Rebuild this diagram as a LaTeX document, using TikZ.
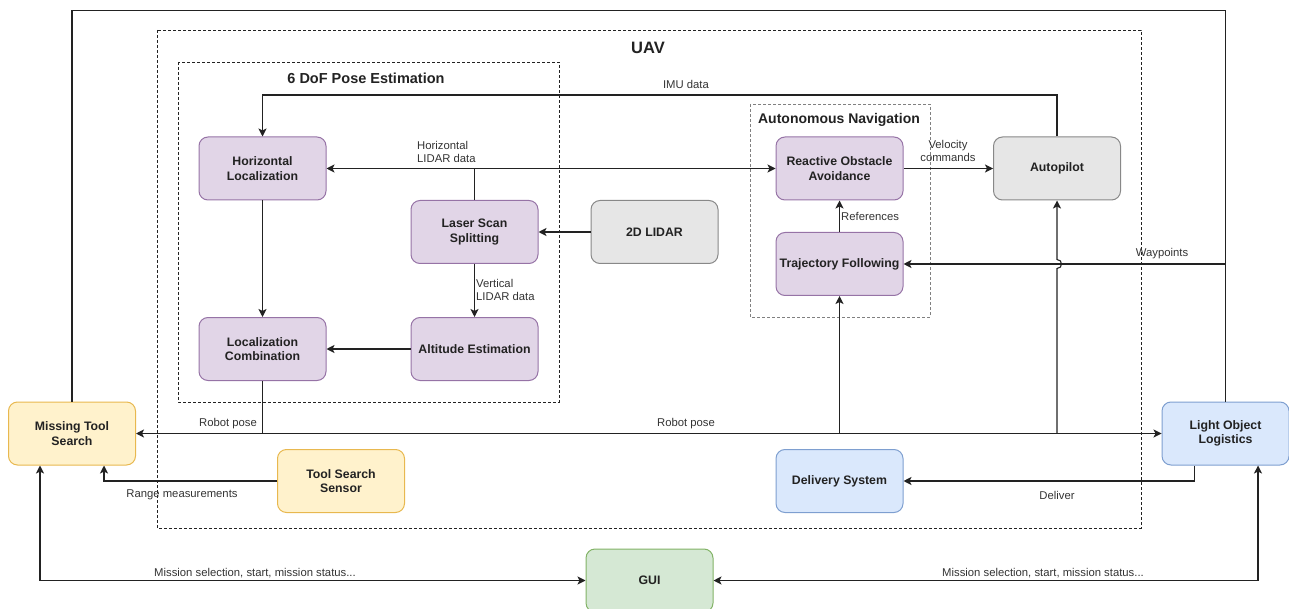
\documentclass[tikz,border=0pt]{standalone}
\usepackage{fontspec}
\setmainfont{Liberation Sans}
\usetikzlibrary{arrows.meta}
\definecolor{purf}{HTML}{E1D5E7}\definecolor{purd}{HTML}{9673A6}
\definecolor{grf}{HTML}{E6E6E6}\definecolor{grd}{HTML}{888888}
\definecolor{yef}{HTML}{FFF2CC}\definecolor{yed}{HTML}{E8B84F}
\definecolor{blf}{HTML}{DAE8FC}\definecolor{bld}{HTML}{7E9FD0}
\definecolor{gnf}{HTML}{D5E8D4}\definecolor{gnd}{HTML}{82B366}
\definecolor{ln}{HTML}{222222}
\definecolor{tx}{HTML}{333333}
\tikzset{
  box/.style={rounded corners=9pt, minimum width=127pt, minimum height=63pt, align=center, line width=1pt, inner sep=2pt,
    font=\fontsize{12.3}{14.5}\selectfont\bfseries, text=ln},
  pur/.style={box, fill=purf, draw=purd},
  gry/.style={box, fill=grf, draw=grd},
  yel/.style={box, fill=yef, draw=yed},
  blu/.style={box, fill=blf, draw=bld},
  grn/.style={box, fill=gnf, draw=gnd},
  lbl/.style={font=\fontsize{11.3}{13}\selectfont, text=tx, inner sep=0pt, align=left},
  ttl/.style={font=\fontsize{14.5}{16}\selectfont\bfseries, text=ln, inner sep=0pt},
  grp/.style={draw=ln, dash pattern=on 3pt off 2pt, line width=0.8pt},
  grp2/.style={draw=gray, dash pattern=on 3pt off 2pt, line width=0.7pt},
  ed/.style={draw=ln, line width=1.1pt},
  arr/.style={ed, -{Stealth[length=8pt,width=8pt,inset=2pt]}},
  arr2/.style={ed, {Stealth[length=8pt,width=8pt,inset=2pt]}-{Stealth[length=8pt,width=8pt,inset=2pt]}},
}
\begin{document}
\begin{tikzpicture}[x=1pt,y=-1pt]
\useasboundingbox (0,0) rectangle (1289,609);
% groups
\draw[grp] (157,30) rectangle (1141,528);
\draw[grp] (178,62) rectangle (559,402);
\draw[grp2] (750,104) rectangle (930,317);
\node[ttl, font=\fontsize{16.5}{18}\selectfont\bfseries] (tuav) at (648,48) {UAV};
\node[ttl] (tdof) at (366,78) {6 DoF Pose Estimation};
\node[ttl, font=\fontsize{14}{16}\selectfont\bfseries] (tan) at (839,120) {Autonomous Navigation};
% nodes
\node[pur] (hl) at (262.5,168.5) {Horizontal\\Localization};
\node[pur] (ls) at (474.5,232) {Laser Scan\\Splitting};
\node[gry] (lidar) at (654.5,232) {2D LIDAR};
\node[pur] (lc) at (262.5,349) {Localization\\Combination};
\node[pur] (ae) at (474.5,349) {Altitude Estimation};
\node[pur] (roa) at (839.5,168.5) {Reactive Obstacle\\Avoidance};
\node[pur] (tf) at (839.5,264) {Trajectory Following};
\node[gry] (ap) at (1057,168.5) {Autopilot};
\node[yel] (mts) at (72,433.5) {Missing Tool\\Search};
\node[yel] (tss) at (341,481) {Tool Search\\Sensor};
\node[blu] (ds) at (839.5,481) {Delivery System};
\node[blu] (lol) at (1225.5,433.5) {Light Object\\Logistics};
\node[grn] (gui) at (649.5,580.5) {GUI};
% helper coordinates
\coordinate (imu) at (660,95);
\coordinate (topl) at (640,10.5);
% edges
\draw[arr] (ap.north) -- (ap.north |- imu) -| (hl.north);
\draw[arr] (ls.north) |- (hl.east);
\draw[arr] (ls.north) |- (roa.west);
\draw[arr] (lidar.west) -- (ls.east);
\draw[arr] (ls.south) -- (ae.north);
\draw[arr] (hl.south) -- (lc.north);
\draw[arr] (ae.west) -- (lc.east);
\draw[arr] (roa.east) -- (ap.west);
\draw[arr] (tf.north) -- (roa.south);
\draw[arr] (lc.south) |- (mts.east);
\draw[arr] (lc.south) |- (lol.west);
\draw[arr] (tf.south |- mts.east) -- (tf.south);
\draw[arr] (ap.south |- mts.east) -- (1057,268.5) .. controls (1063,268.5) and (1063,259.5) .. (1057,259.5) -- (ap.south);
\draw[ed] (mts.north) |- (topl) -| (lol.north);
\draw[arr] (lol.north |- tf.east) -- (tf.east);
\draw[arr] (tss.west) -| ([xshift=32pt]mts.south);
\draw[arr] ([xshift=-31pt]lol.south) |- (ds.east);
\draw[arr2] ([xshift=-32pt]mts.south) |- (gui.west);
\draw[arr2] (gui.east) -| ([xshift=32.5pt]lol.south);
% labels
\node[lbl] (limu) at (686,84) {IMU data};
\node[lbl, anchor=west] (lhl) at (417,151.5) {Horizontal\\LIDAR data};
\node[lbl, anchor=west] (lvl) at (476,290) {Vertical\\LIDAR data};
\node[lbl, align=center] (lvc) at (948,151) {Velocity\\commands};
\node[lbl, anchor=west] (lref) at (841,216) {References};
\node[lbl] (lwp) at (1162,254) {Waypoints};
\node[lbl] (lrp1) at (228,424) {Robot pose};
\node[lbl] (lrp2) at (686,424) {Robot pose};
\node[lbl] (lrm) at (182,495) {Range measurements};
\node[lbl] (ldel) at (1057,495) {Deliver};
\node[lbl] (lms1) at (255,573) {Mission selection, start, mission status...};
\node[lbl] (lms2) at (1043,573) {Mission selection, start, mission status...};
\end{tikzpicture}
\end{document}
